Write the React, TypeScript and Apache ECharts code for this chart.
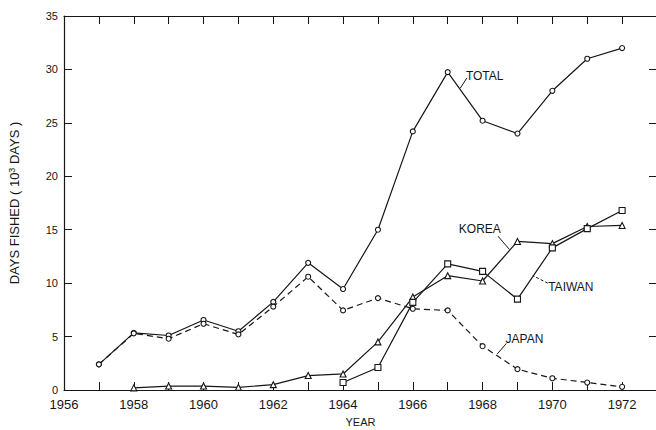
import React, { useEffect, useRef } from "react";
import * as echarts from "echarts";

const years = [1957, 1958, 1959, 1960, 1961, 1962, 1963, 1964, 1965, 1966, 1967, 1968, 1969, 1970, 1971, 1972];
const total = [2.4, 5.35, 5.1, 6.55, 5.5, 8.25, 11.9, 9.45, 15.0, 24.2, 29.75, 25.2, 24.0, 28.0, 31.0, 32.0];
const japan = [2.4, 5.3, 4.8, 6.2, 5.2, 7.8, 10.6, 7.45, 8.6, 7.6, 7.45, 4.1, 1.95, 1.1, 0.7, 0.3];
const korea = [null, 0.2, 0.37, 0.37, 0.25, 0.5, 1.35, 1.5, 4.5, 8.7, 10.7, 10.2, 13.9, 13.7, 15.3, 15.4];
const taiwan = [null, null, null, null, null, null, null, 0.7, 2.1, 8.2, 11.8, 11.1, 8.5, 13.3, 15.1, 16.8];

const xLabelYears = [1956, 1958, 1960, 1962, 1964, 1966, 1968, 1970, 1972];

// annotation texts with anchor (data coordinates) and leader line ends
const annotations = [
  { text: "TOTAL", at: [1968.06, 29.4], from: [1967.55, 29.2], to: [1967.36, 28.25], dash: false },
  { text: "KOREA", at: [1967.92, 15.06], from: [1968.44, 14.4], to: [1968.77, 13.15], dash: false },
  { text: "TAIWAN", at: [1970.53, 9.64], from: [1969.87, 10.0], to: [1969.44, 10.7], dash: true },
  { text: "JAPAN", at: [1969.2, 4.77], from: [1968.68, 4.35], to: [1968.42, 3.37], dash: false },
];

const FONT = "Liberation Sans";
const INK = "#161616";

function pairs(vals: (number | null)[]) {
  return years.map((y, i) => [y, vals[i]]).filter((p) => p[1] !== null);
}

export default function App() {
  const ref = useRef<HTMLDivElement>(null);
  useEffect(() => {
    if (!ref.current) return;
    const chart = echarts.init(ref.current, undefined, { renderer: "svg" });
    const lineBase = (name: string, vals: (number | null)[], symbol: string, size: number, dashed: boolean) => ({
      name,
      type: "line",
      data: pairs(vals),
      symbol,
      symbolSize: size,
      showAllSymbol: true,
      itemStyle: { color: "#fff", borderColor: INK, borderWidth: 1.1 },
      lineStyle: { color: INK, width: 1.2, type: dashed ? [6, 4] : "solid" },
      emphasis: { disabled: true },
      z: 3,
    });
    const axisCommonX = {
      type: "value",
      min: 1956,
      max: 1973,
      interval: 1,
      splitLine: { show: false },
      axisLine: { show: true, onZero: false, lineStyle: { color: INK, width: 1.2 } },
      axisTick: { show: true, inside: true, length: 8, lineStyle: { color: INK, width: 1 } },
    };
    const axisCommonY = {
      type: "value",
      min: 0,
      max: 35,
      interval: 5,
      splitLine: { show: false },
      axisLine: { show: true, onZero: false, lineStyle: { color: INK, width: 1.2 } },
      axisTick: { show: true, inside: true, length: 8, lineStyle: { color: INK, width: 1 } },
    };
    chart.setOption({
      animation: false,
      backgroundColor: "#fff",
      grid: { left: 64, top: 16, right: 3, bottom: 40, containLabel: false, outerBoundsMode: "none" },
      xAxis: [
        {
          ...axisCommonX,
          position: "bottom",
          name: "YEAR",
          nameLocation: "middle",
          nameGap: 26,
          nameTextStyle: { fontFamily: FONT, fontSize: 11, color: INK },
          axisLabel: {
            show: true,
            margin: 8,
            fontFamily: FONT,
            fontSize: 13,
            color: INK,
            showMaxLabel: false,
            formatter: (v: number) => (xLabelYears.includes(v) ? String(v) : ""),
          },
        },
        { ...axisCommonX, position: "top", axisLabel: { show: false } },
      ],
      yAxis: [
        {
          ...axisCommonY,
          position: "left",
          name: "DAYS FISHED ( 10{sup|3} DAYS )",
          nameLocation: "middle",
          nameGap: 42,
          nameRotate: 90,
          nameTextStyle: {
            fontFamily: FONT,
            fontSize: 13,
            color: INK,
            rich: { sup: { fontFamily: FONT, fontSize: 9, color: INK, verticalAlign: "top", padding: [0, 0, 6, 0] } },
          },
          axisLabel: { show: true, margin: 6, fontFamily: FONT, fontSize: 11, color: INK },
        },
        { ...axisCommonY, position: "right", axisLabel: { show: false } },
      ],
      series: [
        lineBase("TOTAL", total, "circle", 5, false),
        lineBase("JAPAN", japan, "circle", 5, true),
        lineBase("KOREA", korea, "triangle", 6, false),
        lineBase("TAIWAN", taiwan, "rect", 6, false),
      ],
    });

    const px = (p: number[]) => chart.convertToPixel({ gridIndex: 0 }, p) as number[];
    const graphic: any[] = [];
    annotations.forEach((a) => {
      const c = px(a.at);
      const f = px(a.from);
      const t = px(a.to);
      graphic.push({
        type: "text",
        x: c[0],
        y: c[1],
        style: {
          text: a.text,
          fontFamily: FONT,
          fontSize: 12,
          fill: INK,
          align: "center",
          verticalAlign: "middle",
        },
        z: 10,
      });
      graphic.push({
        type: "line",
        shape: { x1: f[0], y1: f[1], x2: t[0], y2: t[1] },
        style: { stroke: INK, lineWidth: 1, lineDash: a.dash ? [3, 2] : null },
        z: 10,
      });
    });
    chart.setOption({ graphic });

    return () => chart.dispose();
  }, []);
  return (
    <div
      ref={ref}
      style={{ position: "absolute", left: 0, top: 0, width: 660, height: 430, background: "#fff" }}
    />
  );
}
